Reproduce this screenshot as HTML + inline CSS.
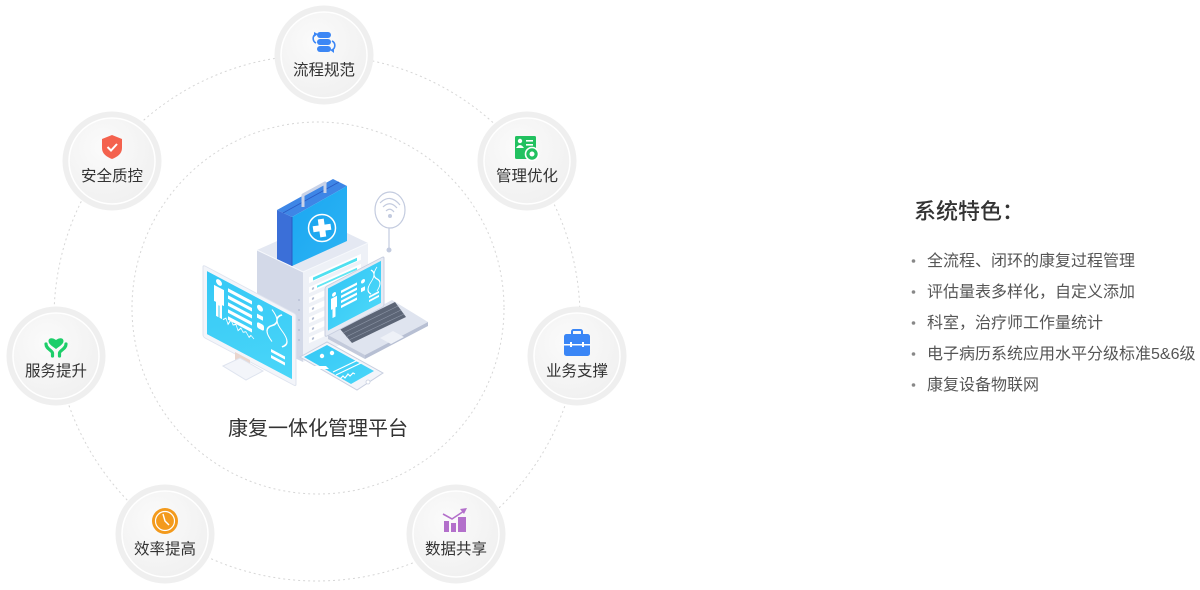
<!DOCTYPE html>
<html><head><meta charset="utf-8">
<style>
html,body{margin:0;padding:0;background:#fff;}
body{width:1200px;height:590px;overflow:hidden;position:relative;}
svg{position:absolute;left:0;top:0;}
text{font-family:"Liberation Sans","Noto Sans CJK SC",sans-serif;}
</style></head>
<body>
<svg width="1200" height="590" viewBox="0 0 1200 590" xmlns="http://www.w3.org/2000/svg">
<defs>
  <radialGradient id="ng" cx="0.4" cy="0.35" r="0.7">
    <stop offset="0" stop-color="#fbfbfb"/>
    <stop offset="1" stop-color="#f0f0f0"/>
  </radialGradient>
  <linearGradient id="scr" x1="0" y1="0" x2="1" y2="1">
    <stop offset="0" stop-color="#35c8f6"/>
    <stop offset="1" stop-color="#4ad6f8"/>
  </linearGradient>
  <linearGradient id="boxf" x1="0" y1="0" x2="1" y2="1">
    <stop offset="0" stop-color="#1aa6f1"/>
    <stop offset="1" stop-color="#2db4f4"/>
  </linearGradient>
  <g id="node">
    <circle r="49.5" fill="#efefef"/>
    <circle r="43" fill="url(#ng)" stroke="#ffffff" stroke-width="1.5"/>
  </g>
</defs>

<!-- dashed circles -->
<circle cx="317" cy="318" r="263" fill="none" stroke="#d6d6d6" stroke-width="1" stroke-dasharray="2 3"/>
<circle cx="318" cy="308" r="186" fill="none" stroke="#d6d6d6" stroke-width="1" stroke-dasharray="2 3"/>

<!-- ========== Illustration ========== -->
<!-- wifi -->
<g fill="none" stroke="#c3cbdf" stroke-width="1.2">
  <ellipse cx="390" cy="210" rx="15" ry="18"/>
  <path d="M380,203 q10,-10 20,2"/>
  <path d="M383,207 q7,-7 14,1"/>
  <path d="M386,211 q4,-4 8,1"/>
  <line x1="389" y1="228" x2="389" y2="248"/>
</g>
<circle cx="390" cy="216" r="2" fill="#c3cbdf"/>
<circle cx="389" cy="250" r="2.5" fill="#c3cbdf"/>

<!-- cabinet -->
<polygon points="257,250 303,272 368,243 322,221" fill="#e4e8f2"/>
<polygon points="257,250 303,272 303,362 257,340" fill="#d3d9e8"/>
<polygon points="303,272 368,243 368,332 303,362" fill="#eef1f7"/>
<polyline points="257,250 303,272 368,243" fill="none" stroke="#f6f8fc" stroke-width="1"/>
<!-- dots on left face -->
<g fill="#b9c1d6">
  <circle cx="264" cy="300" r="1"/><circle cx="269" cy="302" r="1"/><circle cx="274" cy="305" r="1"/><circle cx="279" cy="307" r="1"/><circle cx="284" cy="310" r="1"/><circle cx="289" cy="312" r="1"/><circle cx="294" cy="315" r="1"/>
  <circle cx="264" cy="306" r="1"/><circle cx="269" cy="308" r="1"/><circle cx="274" cy="311" r="1"/><circle cx="279" cy="313" r="1"/><circle cx="284" cy="316" r="1"/><circle cx="289" cy="318" r="1"/><circle cx="294" cy="321" r="1"/>
  <circle cx="264" cy="312" r="1"/><circle cx="269" cy="314" r="1"/><circle cx="274" cy="317" r="1"/><circle cx="279" cy="319" r="1"/><circle cx="284" cy="322" r="1"/><circle cx="289" cy="324" r="1"/><circle cx="294" cy="327" r="1"/>
  <circle cx="299" cy="300" r="1"/><circle cx="299" cy="310" r="1"/><circle cx="299" cy="320" r="1"/><circle cx="299" cy="330" r="1"/><circle cx="299" cy="340" r="1"/>
</g>
<!-- slots on right face -->
<g transform="matrix(1,-0.45,0,1,303,272)">
  <rect x="6" y="8" width="52" height="6" fill="#ffffff"/>
  <rect x="10" y="10" width="44" height="3" fill="#4fe0f0"/>
  <rect x="6" y="18" width="52" height="6" fill="#ffffff"/>
  <rect x="6" y="28" width="52" height="6" fill="#ffffff"/>
  <rect x="6" y="38" width="52" height="6" fill="#ffffff"/>
  <rect x="6" y="48" width="52" height="6" fill="#ffffff"/>
  <rect x="6" y="58" width="52" height="6" fill="#ffffff"/>
  <rect x="6" y="68" width="52" height="6" fill="#ffffff"/>
  <g fill="#b3bdd4"><circle cx="10" cy="21" r="1.2"/><circle cx="10" cy="31" r="1.2"/><circle cx="10" cy="41" r="1.2"/><circle cx="10" cy="51" r="1.2"/><circle cx="10" cy="61" r="1.2"/><circle cx="10" cy="71" r="1.2"/></g>
  <rect x="14" y="20" width="40" height="2" fill="#61e6f3"/>
</g>

<!-- medical box -->
<polygon points="277,210 292,217 347,186 333,179" fill="#3e86e6"/>
<polygon points="277,210 292,217 292,266 277,259" fill="#3b6fd8"/>
<polygon points="292,217 347,186 347,241 292,266" fill="url(#boxf)"/>
<line x1="292" y1="217" x2="292" y2="266" stroke="#2a5bc4" stroke-width="1"/>
<line x1="283" y1="213" x2="339" y2="182" stroke="#2a5bc4" stroke-width="0.8"/>
<g fill="none" stroke="#c9d3e8" stroke-width="3" stroke-linejoin="round">
  <polyline points="303,207 303,195 325,183 325,193"/>
</g>
<circle cx="322" cy="228" r="13.5" fill="#1ea8f0" stroke="#ffffff" stroke-width="1.5"/>
<path d="M319,219 h6 v6 h6 v6 h-6 v6 h-6 v-6 h-6 v-6 h6 z" fill="#ffffff" transform="rotate(-8 322 228)"/>

<!-- monitor -->
<g transform="matrix(1,0.53,0,1,203,265)">
  <rect x="0" y="0" width="93" height="72" rx="2" fill="#f3f5fa" stroke="#dfe4ef" stroke-width="1"/>
  <rect x="4" y="4" width="85" height="63" fill="url(#scr)"/>
  <circle cx="16" cy="9" r="3" fill="#fff"/>
  <path d="M11,14 h10 v16 h-2 v14 h-2.5 v-12 h-1 v12 h-2.5 v-14 h-2 z" fill="#fff"/>
  <g fill="#fff">
    <rect x="25" y="10" width="24" height="3.5"/>
    <rect x="25" y="17" width="24" height="3.5"/>
    <rect x="25" y="24" width="24" height="3.5"/>
    <rect x="25" y="31" width="24" height="3.5"/>
    <rect x="25" y="38" width="24" height="3.5"/>
    <rect x="54" y="10" width="6" height="6" rx="3"/>
    <rect x="54" y="20" width="6" height="4"/>
    <rect x="54" y="28" width="7" height="6" rx="2"/>
    <rect x="68" y="48" width="14" height="3"/>
    <rect x="68" y="54" width="14" height="3"/>
  </g>
  <path d="M20,44 l3,-3 l2,5 l3,-6 l2,4 l3,-2 l2,5 l3,-4 l2,3 l3,-2 l3,4 l2,-3 l3,2" fill="none" stroke="#fff" stroke-width="0.9"/>
  <path d="M69,8 q10,8 0,16 q-10,8 0,16 M79,8 q-10,8 0,16 q10,8 0,16" fill="none" stroke="#fff" stroke-width="1.3"/>
</g>
<!-- monitor stand -->
<polygon points="235,352 250,360 250,370 235,362" fill="#e9d6cf"/>
<polygon points="223,366 240,358 263,371 246,380" fill="#f3f5fa" stroke="#dfe4ef" stroke-width="1"/>

<!-- laptop base -->
<polygon points="328,335 392,300 428,322 365,355" fill="#dfe4ef"/>
<polygon points="328,335 365,355 365,359 328,339" fill="#c3cadb"/>
<polygon points="365,355 428,322 428,326 365,359" fill="#b7bfd3"/>
<polygon points="340,329 395,302 406,317 352,343" fill="#5c6576"/>
<g stroke="#8e97a8" stroke-width="0.6">
  <line x1="343" y1="333" x2="398" y2="306"/>
  <line x1="346" y1="337" x2="401" y2="310"/>
  <line x1="349" y1="340" x2="404" y2="314"/>
</g>
<polygon points="380,338 393,331 404,337 391,344" fill="#eef1f7"/>
<!-- laptop screen -->
<g transform="matrix(1,-0.52,0,1,325,287)">
  <rect x="0" y="0" width="59" height="50" rx="2" fill="#e6eaf3" stroke="#c8cfe0" stroke-width="1"/>
  <rect x="3" y="3" width="53" height="42" fill="url(#scr)"/>
  <circle cx="9" cy="12" r="2" fill="#fff"/>
  <path d="M6,15 h6 v11 h-1.5 v9 h-3 v-9 h-1.5 z" fill="#fff"/>
  <g fill="#fff">
    <rect x="16" y="12" width="16" height="2.5"/>
    <rect x="16" y="17" width="16" height="2.5"/>
    <rect x="16" y="22" width="16" height="2.5"/>
    <rect x="16" y="27" width="16" height="2.5"/>
    <rect x="36" y="12" width="4" height="4" rx="2"/>
    <rect x="36" y="20" width="4" height="4"/>
    <rect x="44" y="32" width="10" height="2"/>
    <rect x="44" y="36" width="10" height="2"/>
  </g>
  <path d="M46,7 q6,6 0,12 q-6,6 0,12 M52,7 q-6,6 0,12 q6,6 0,12" fill="none" stroke="#fff" stroke-width="1"/>
</g>

<!-- phone -->
<polygon points="300,357 327,342 383,373 357,390" fill="#f3f5fa" stroke="#c8cfe0" stroke-width="1"/>
<polygon points="304,357 327,345 374,371 351,384" fill="url(#scr)"/>
<g stroke="#fff" stroke-width="1.2" fill="none">
  <line x1="333" y1="372" x2="358" y2="360"/>
  <line x1="336" y1="375" x2="361" y2="363"/>
  <path d="M340,379 l3,-3 l2,2 l3,-4 l2,2 l3,-3 l2,1"/>
</g>
<g fill="#fff">
  <circle cx="322" cy="356" r="2.2"/>
  <circle cx="332" cy="353" r="2.2"/>
  <path d="M312,366 h14 l3,3 h-14 z"/>
</g>
<circle cx="368" cy="382" r="2" fill="#fff" stroke="#c8cfe0" stroke-width="0.8"/>

<!-- center label -->
<text x="318" y="435" font-size="20" fill="#333" text-anchor="middle">康复一体化管理平台</text>

<!-- ========== Nodes ========== -->
<g transform="translate(324,55)">
  <use href="#node"/>
  <g fill="#3c87f5">
    <rect x="-7" y="-23" width="14" height="6" rx="3"/>
    <rect x="-7" y="-16" width="14" height="6" rx="3"/>
    <rect x="-7" y="-9" width="14" height="6" rx="3"/>
  </g>
  <g fill="none" stroke="#3c87f5" stroke-width="1.6">
    <path d="M-8,-21 a5,5 0 0 0 0,9"/>
    <path d="M8,-14 a5,5 0 0 1 0,9"/>
  </g>
  <polygon points="-10,-23 -6,-21 -10,-18" fill="#3c87f5"/>
  <polygon points="10,-7 6,-5 10,-2" fill="#3c87f5"/>
  <text x="0" y="20" font-size="15.5" fill="#333" text-anchor="middle">流程规范</text>
</g>

<g transform="translate(527,161)">
  <use href="#node"/>
  <rect x="-12" y="-25" width="21" height="23" rx="1.5" fill="#22c160"/>
  <circle cx="-7" cy="-20" r="2.2" fill="#fff"/>
  <path d="M-11,-13 q4,-6 8,0 z" fill="#fff"/>
  <rect x="-1" y="-21" width="7" height="1.6" fill="#fff"/>
  <rect x="-1" y="-17" width="7" height="1.6" fill="#fff"/>
  <circle cx="5" cy="-7" r="6.5" fill="#22c160" stroke="#fff" stroke-width="1.6"/>
  <circle cx="5" cy="-7" r="2.5" fill="#fff"/>
  <text x="0" y="20" font-size="15.5" fill="#333" text-anchor="middle">管理优化</text>
</g>

<g transform="translate(112,161)">
  <use href="#node"/>
  <path d="M0,-26 L10,-22 L10,-13 C10,-7 5,-4 0,-2 C-5,-4 -10,-7 -10,-13 L-10,-22 Z" fill="#f4624e"/>
  <path d="M-4.5,-14 L-1,-10.5 L5,-17" fill="none" stroke="#fff" stroke-width="2"/>
  <text x="0" y="20" font-size="15.5" fill="#333" text-anchor="middle">安全质控</text>
</g>

<g transform="translate(56,356)">
  <use href="#node"/>
  <path d="M0,-7 C-4,-10 -7.5,-12 -7.5,-15 C-7.5,-18 -4,-19 0,-16 C4,-19 7.5,-18 7.5,-15 C7.5,-12 4,-10 0,-7 Z" fill="#1dce6a"/>
  <g fill="none" stroke="#1dce6a" stroke-width="3.2" stroke-linecap="round">
    <path d="M-10,-12 C-10,-7 -4,-6 -3.5,-3 L-3.5,0"/>
    <path d="M10,-12 C10,-7 4,-6 3.5,-3 L3.5,0"/>
  </g>
  <text x="0" y="20" font-size="15.5" fill="#333" text-anchor="middle">服务提升</text>
</g>

<g transform="translate(577,356)">
  <use href="#node"/>
  <rect x="-5" y="-26" width="10" height="6" rx="1.5" fill="none" stroke="#3a86f6" stroke-width="2"/>
  <rect x="-13" y="-22" width="26" height="22" rx="2.5" fill="#3a86f6"/>
  <rect x="-13" y="-12" width="26" height="1.5" fill="#fff"/>
  <rect x="-7" y="-14" width="2" height="5" fill="#fff"/>
  <rect x="5" y="-14" width="2" height="5" fill="#fff"/>
  <text x="0" y="20" font-size="15.5" fill="#333" text-anchor="middle">业务支撑</text>
</g>

<g transform="translate(165,534)">
  <use href="#node"/>
  <circle cx="0" cy="-13" r="13" fill="#f39a1c"/>
  <circle cx="0" cy="-13" r="9.5" fill="none" stroke="#fff" stroke-width="1.2"/>
  <path d="M-2,-20 L0,-13 L4,-9" fill="none" stroke="#fff" stroke-width="1.4"/>
  <text x="0" y="20" font-size="15.5" fill="#333" text-anchor="middle">效率提高</text>
</g>

<g transform="translate(456,534)">
  <use href="#node"/>
  <g fill="#b370cb">
    <rect x="-12" y="-13" width="5" height="11"/>
    <rect x="-5" y="-11" width="5" height="9"/>
    <rect x="2" y="-17" width="8" height="15"/>
  </g>
  <path d="M-13,-20 L-4,-15 L8,-23" fill="none" stroke="#b370cb" stroke-width="1.6"/>
  <polygon points="11,-26 4,-25 8,-20" fill="#b370cb"/>
  <text x="0" y="20" font-size="15.5" fill="#333" text-anchor="middle">数据共享</text>
</g>

<!-- ========== Right text ========== -->
<text x="914" y="219" font-size="22" font-weight="500" fill="#333">系统特色：</text>
<g fill="#888">
  <circle cx="913.5" cy="261" r="1.8"/>
  <circle cx="913.5" cy="292" r="1.8"/>
  <circle cx="913.5" cy="323" r="1.8"/>
  <circle cx="913.5" cy="354" r="1.8"/>
  <circle cx="913.5" cy="385" r="1.8"/>
</g>
<g font-size="16" fill="#555">
  <text x="927" y="266">全流程、闭环的康复过程管理</text>
  <text x="927" y="297">评估量表多样化，自定义添加</text>
  <text x="927" y="328">科室，治疗师工作量统计</text>
  <text x="927" y="359">电子病历系统应用水平分级标准5&amp;6级</text>
  <text x="927" y="390">康复设备物联网</text>
</g>
</svg>
</body></html>
